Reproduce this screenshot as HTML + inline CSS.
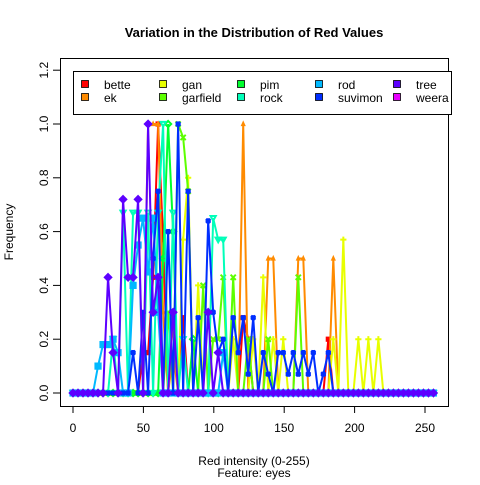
<!DOCTYPE html>
<html><head><meta charset="utf-8"><style>
body{margin:0;background:#fff}
text{font-family:"Liberation Sans",Arial,sans-serif}
</style></head><body>
<svg id="chart" width="480" height="480" xmlns="http://www.w3.org/2000/svg">
<rect width="480" height="480" fill="#fff"/>
<text x="254" y="37" text-anchor="middle" font-size="13" font-weight="bold">Variation in the Distribution of Red Values</text>
<text x="254" y="465" text-anchor="middle" font-size="12">Red  intensity (0-255)</text>
<text x="254" y="477" text-anchor="middle" font-size="12">Feature: eyes</text>
<text transform="translate(13,232) rotate(-90)" text-anchor="middle" font-size="12">Frequency</text>
<g id="plot"></g>
<g id="axes"></g>
<rect x="60.5" y="58.5" width="388" height="348" fill="none" stroke="#000"/>
<g id="legend"></g>
</svg>
<script>
const xTicks=[0,50,100,150,200,250];
const yTicks=[0,0.2,0.4,0.6,0.8,1.0,1.2];
const yTickLabels=["0.0","0.2","0.4","0.6","0.8","1.0","1.2"];
const seriesNames=["bette","ek","gan","garfield","pim","rock","rod","suvimon","tree","weera"];
const binCount=73;
const binWidth=256/72;
const betteBins=[14,15,16,17,18,20,22,34,35,51];
const betteVals=[0.15,0.15,0.43,1.0,0.57,0.28,0.28,0.28,0.2,0.2];
const ekBins=[15,16,17,18,20,34,39,40,45,46,52];
const ekVals=[1,1,1,0.3,0.15,1,0.5,0.5,0.5,0.5,0.5];
const ganBins=[20,22,23,25,32,36,38,40,42,52,54,57,59,61];
const ganVals=[0.3,0.57,0.8,0.4,0.2,0.2,0.43,0.2,0.2,0.2,0.57,0.2,0.2,0.2];
const garfieldBins=[19,21,22,23,26,28,29,30,32,35,39,45];
const garfieldVals=[0.3,1.0,0.95,0.75,0.4,0.2,0.2,0.43,0.43,0.2,0.2,0.43];
const pimBins=[18,19,20,24];
const pimVals=[0.5,1.0,0.6,0.2];
const rockBins=[8,10,12,13,15,17,18,20,22,28,29,30];
const rockVals=[0.2,0.67,0.67,0.67,0.67,0.67,1.0,0.67,0.2,0.65,0.57,0.57];
const rodBins=[5,6,7,8,9,12,13,14,15,16,17,30];
const rodVals=[0.1,0.18,0.18,0.2,0.15,0.4,0.55,0.65,0.45,0.65,0.3,0.15];
const suvimonBins=[12,14,16,17,19,21,23,25,27,28,29,30,32,33,34,35,36,38,39,41,42,43,44,45,46,47,48,50,51];
const suvimonVals=[0.15,0.3,0.5,0.75,0.6,1.0,0.75,0.28,0.64,0.3,0.15,0.2,0.28,0.15,0.28,0.07,0.28,0.15,0.07,0.15,0.15,0.07,0.15,0.07,0.15,0.07,0.15,0.07,0.15];
const treeBins=[7,8,10,11,12,13,15,16,17,20,27,29];
const treeVals=[0.43,0.15,0.72,0.43,0.43,0.72,1.0,0.3,0.43,0.3,0.3,0.15];
const weeraBins=[];
const weeraVals=[];
const colors=["#FF0000","#FF8B00","#E8FF00","#5DFF00","#00FF2E","#00FFB9","#00B9FF","#002EFF","#5D00FF","#E800FF"];
const pchs=[15,17,3,4,5,6,7,8,9,10];
const allBins=[betteBins,ekBins,ganBins,garfieldBins,pimBins,rockBins,rodBins,suvimonBins,treeBins,weeraBins];
const allVals=[betteVals,ekVals,ganVals,garfieldVals,pimVals,rockVals,rodVals,suvimonVals,treeVals,weeraVals];

const NS="http://www.w3.org/2000/svg";
function X(v){return 73+v*1.408;}
function Y(v){return 393-v*269;}
function mk(tag,attrs,parent){const e=document.createElementNS(NS,tag);for(const k in attrs)e.setAttribute(k,attrs[k]);parent.appendChild(e);return e;}
const axes=document.getElementById('axes');
mk('line',{x1:X(0),x2:X(250),y1:406.5,y2:406.5,stroke:'#000'},axes);
xTicks.forEach(t=>{
  const l=mk('line',{x1:X(t),x2:X(t),y1:406,y2:413,stroke:'#000'},axes);
  
  
  const tx=mk('text',{x:X(t),y:432,'text-anchor':'middle','font-size':'12'},axes);
  tx.textContent=t;
  
  
});
mk('line',{x1:60.5,x2:60.5,y1:Y(0),y2:Y(1.2),stroke:'#000'},axes);
yTicks.forEach((t,i)=>{
  const l=mk('line',{x1:53,x2:60,y1:Y(t),y2:Y(t),stroke:'#000'},axes);
  
  
  const tx=mk('text',{transform:`translate(48,${Y(t)}) rotate(-90)`,'text-anchor':'middle','font-size':'12'},axes);
  tx.textContent=yTickLabels[i];
  
  
});
function marker(g,pch,x,y,c){
  const r=2.6;
  switch(pch){
    case 15:mk('rect',{x:x-r,y:y-r,width:2*r,height:2*r,fill:c},g);break;
    case 17:mk('polygon',{points:`${x},${y-r-1} ${x-r},${y+r-0.5} ${x+r},${y+r-0.5}`,fill:c},g);break;
    case 3:mk('path',{d:`M${x-r-0.5},${y}H${x+r+0.5}M${x},${y-r-0.5}V${y+r+0.5}`,stroke:c,'stroke-width':2,fill:'none'},g);break;
    case 4:mk('path',{d:`M${x-r},${y-r}L${x+r},${y+r}M${x-r},${y+r}L${x+r},${y-r}`,stroke:c,'stroke-width':2,fill:'none'},g);break;
    case 5:mk('polygon',{points:`${x},${y-r-0.5} ${x+r+0.5},${y} ${x},${y+r+0.5} ${x-r-0.5},${y}`,stroke:c,'stroke-width':2,fill:'none'},g);break;
    case 6:mk('polygon',{points:`${x},${y+r} ${x-r},${y-r+0.5} ${x+r},${y-r+0.5}`,stroke:c,'stroke-width':2,fill:'none'},g);break;
    case 7:mk('rect',{x:x-r,y:y-r,width:2*r,height:2*r,stroke:c,'stroke-width':2,fill:c},g);break;
    case 8:mk('path',{d:`M${x-r},${y}H${x+r}M${x},${y-r}V${y+r}M${x-r+0.5},${y-r+0.5}L${x+r-0.5},${y+r-0.5}M${x-r+0.5},${y+r-0.5}L${x+r-0.5},${y-r+0.5}`,stroke:c,'stroke-width':2.2,fill:'none'},g);break;
    case 9:mk('path',{d:`M${x},${y-r-0.5}L${x+r+0.5},${y}L${x},${y+r+0.5}L${x-r-0.5},${y}Z`,stroke:c,'stroke-width':2.2,fill:c},g);break;
    case 10:mk('circle',{cx:x,cy:y,r:r,stroke:c,'stroke-width':2,fill:'none'},g);break;
  }
}
const plot=document.getElementById('plot');
allBins.forEach((bins,s)=>{
  if(bins.length===0)return;
  const vals=new Array(binCount).fill(0);
  bins.forEach((b,i)=>{vals[b]=allVals[s][i];});
  const g=mk('g',{},plot);
  
  
  const pts=vals.map((v,i)=>`${X(i*binWidth).toFixed(2)},${Y(v).toFixed(2)}`).join(' ');
  mk('polyline',{points:pts,fill:'none',stroke:colors[s],'stroke-width':2},g);
  vals.forEach((v,i)=>marker(g,pchs[s],X(i*binWidth),Y(v),colors[s]));
});
const lg=document.getElementById('legend');
mk('rect',{x:73.5,y:71.5,width:378,height:43,fill:'#fff',stroke:'#000'},lg);
seriesNames.forEach((n,i)=>{
  const col=Math.floor(i/2),row=i%2;
  const x=85+col*78,y=88+row*13;
  const e=mk('g',{},lg);
  
  
  mk('rect',{x:x-3.5,y:y-7.5,width:7,height:7,fill:colors[i],stroke:'#000','stroke-width':0.8},e);
  const t=mk('text',{x:x+19,y:y+1,'font-size':'12'},e);
  t.textContent=n;
});
</script>
</body></html>
